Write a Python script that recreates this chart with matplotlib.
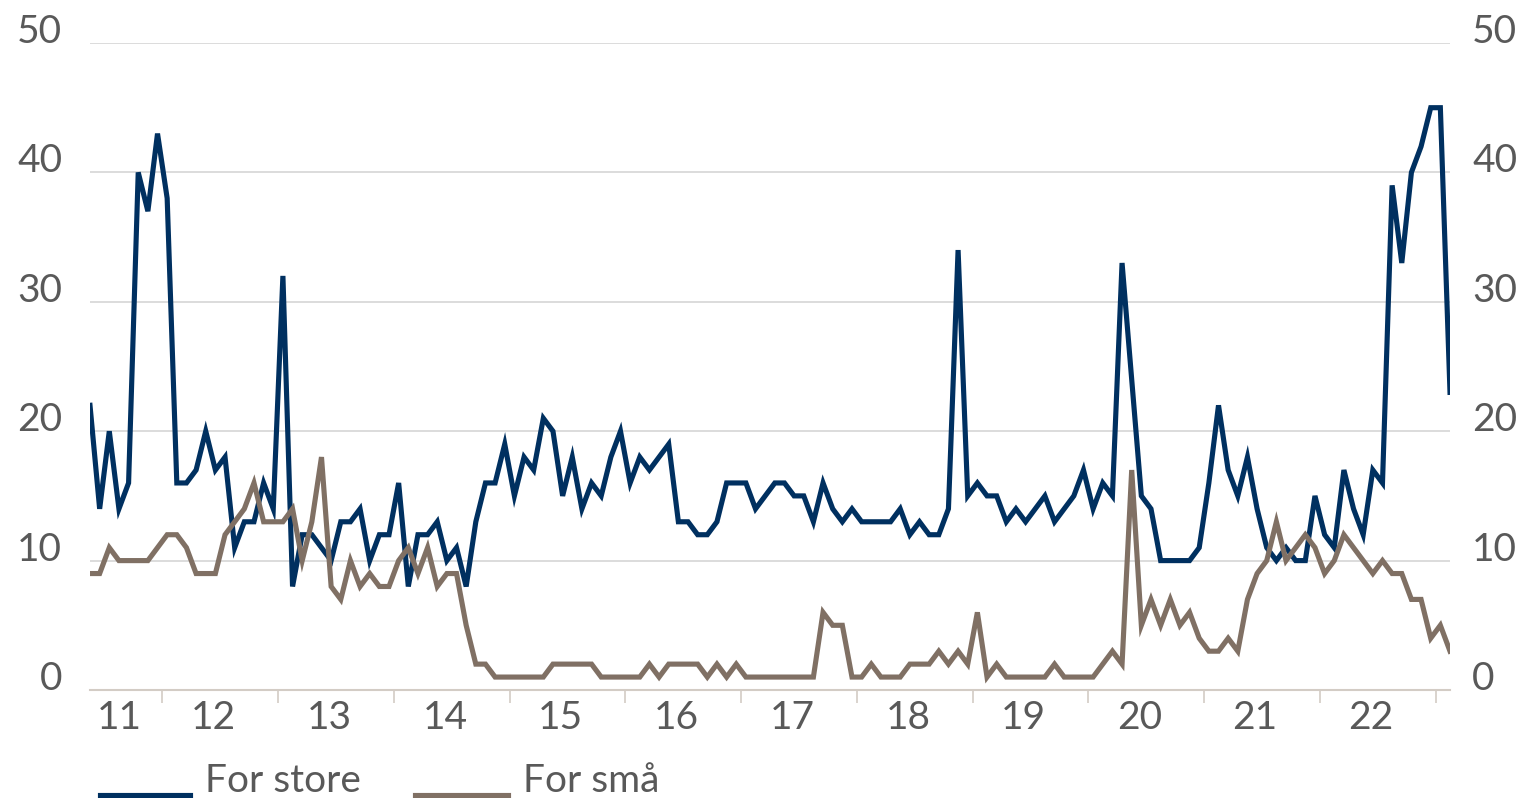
import numpy as np
import matplotlib.pyplot as plt
from matplotlib.lines import Line2D

plt.rcParams['font.family'] = ['Lato', 'DejaVu Sans']

# monthly values, May 2011 - Feb 2023
for_store = [22, 14, 20, 14, 16, 40, 37, 43, 38, 16, 16, 17, 20, 17, 18, 11, 13, 13, 16, 14,
             32, 8, 12, 12, 11, 10, 13, 13, 14, 10, 12, 12, 16, 8, 12, 12, 13, 10, 11, 8,
             13, 16, 16, 19, 15, 18, 17, 21, 20, 15, 18, 14, 16, 15, 18, 20, 16, 18, 17, 18,
             19, 13, 13, 12, 12, 13, 16, 16, 16, 14, 15, 16, 16, 15, 15, 13, 16, 14, 13, 14,
             13, 13, 13, 13, 14, 12, 13, 12, 12, 14, 34, 15, 16, 15, 15, 13, 14, 13, 14, 15,
             13, 14, 15, 17, 14, 16, 15, 33, 24, 15, 14, 10, 10, 10, 10, 11, 16, 22, 17, 15,
             18, 14, 11, 10, 11, 10, 10, 15, 12, 11, 17, 14, 12, 17, 16, 39, 33, 40, 42, 45,
             45, 23]
for_smaa = [9, 9, 11, 10, 10, 10, 10, 11, 12, 12, 11, 9, 9, 9, 12, 13, 14, 16, 13, 13,
            13, 14, 10, 13, 18, 8, 7, 10, 8, 9, 8, 8, 10, 11, 9, 11, 8, 9, 9, 5,
            2, 2, 1, 1, 1, 1, 1, 1, 2, 2, 2, 2, 2, 1, 1, 1, 1, 1, 2, 1,
            2, 2, 2, 2, 1, 2, 1, 2, 1, 1, 1, 1, 1, 1, 1, 1, 6, 5, 5, 1,
            1, 2, 1, 1, 1, 2, 2, 2, 3, 2, 3, 2, 6, 1, 2, 1, 1, 1, 1, 1,
            2, 1, 1, 1, 1, 2, 3, 2, 17, 5, 7, 5, 7, 5, 6, 4, 3, 3, 4, 3,
            7, 9, 10, 13, 10, 11, 12, 11, 9, 10, 12, 11, 10, 9, 10, 9, 9, 7, 7, 4,
            5, 3]
years = ['11', '12', '13', '14', '15', '16', '17', '18', '19', '20', '21', '22']
first_month = 5  # May 2011

blue = '#003060'
brown = '#807064'
grey_txt = '#595959'

x = np.arange(len(for_store))
fig = plt.figure(figsize=(15.22, 7.98), dpi=100)
W, H = 1522, 798
ax = fig.add_axes([90 / W, 1 - 690 / H, (1450 - 90) / W, (690 - 43) / H])

ax.plot(x, for_store, color=blue, lw=3.7, solid_joinstyle='miter', zorder=3)
ax.plot(x, for_smaa, color=brown, lw=3.7, solid_joinstyle='miter', zorder=3)

ax.set_xlim(0, len(x) - 1)
ax.set_ylim(0, 50)
ax.set_yticks(range(0, 51, 10))
for y in range(10, 51, 10):
    ax.axhline(y, color='#d9d9d9', lw=1.3, zorder=1)

for s in ['top', 'left', 'right']:
    ax.spines[s].set_visible(False)
ax.spines['bottom'].set_color('#d3ccc5')
ax.spines['bottom'].set_linewidth(1.5)

# year boundaries (minor ticks) and labels (major, no mark)
jan_idx = [(k + 1) * 12 - (first_month - 1) for k in range(len(years))]
bounds = [j - 0.5 for j in jan_idx]
ax.set_xticks(bounds, minor=True)
starts = [0] + bounds[:-1]
label_pos = [(a + b) / 2 - 0.7 for a, b in zip(starts, bounds)]
ax.set_xticks(label_pos)
ax.set_xticklabels(years)
ax.tick_params(axis='x', which='minor', length=9, width=1.2, color='#d3ccc5', direction='out')
ax.tick_params(axis='x', which='major', length=0, pad=7, labelsize=28, labelcolor=grey_txt)
ax.tick_params(axis='y', length=0, labelsize=28, labelcolor=grey_txt, pad=20,
               labelleft=True, labelright=False)

ax2 = ax.twinx()
ax2.set_ylim(ax.get_ylim())
ax2.set_yticks(range(0, 51, 10))
for s in ['top', 'left', 'right', 'bottom']:
    ax2.spines[s].set_visible(False)
ax2.tick_params(axis='y', length=0, labelsize=28, labelcolor=grey_txt, pad=16)

for lab in ax.get_yticklabels() + ax2.get_yticklabels():
    lab.set_va('baseline')

# legend drawn by hand at the bottom
for x0, x1, c, txt, tx in [(100, 190, blue, 'For store', 205), (415, 508, brown, 'For små', 523)]:
    fig.add_artist(Line2D([x0 / W, x1 / W], [1 - 795 / H, 1 - 795 / H], color=c, lw=3.7,
                          transform=fig.transFigure))
    fig.text(tx / W, 1 - 792 / H, txt, fontsize=28, color=grey_txt, va='baseline', ha='left')

fig.savefig('out.png', dpi=100)
